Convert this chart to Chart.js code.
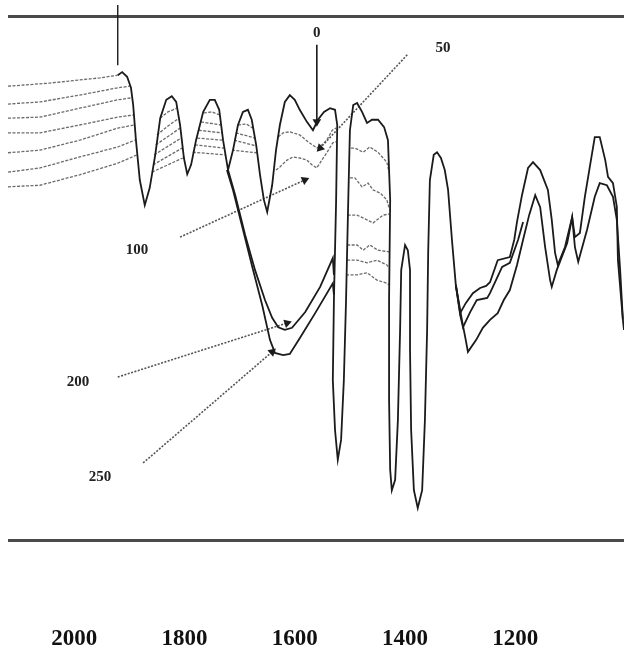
<!DOCTYPE html>
<html>
<head>
<meta charset="utf-8">
<script src="https://cdn.jsdelivr.net/npm/chart.js@4.4.1/dist/chart.umd.min.js"></script>
<style>
  body { margin: 0; background: #fff; }
  #wrap { width: 624px; height: 653px; }
</style>
</head>
<body>
<div id="wrap"><canvas id="chart"></canvas></div>
<script>
// wavenumber tick labels (cm-1)
const xTicks = [2000, 1800, 1600, 1400, 1200];
// frame lines of the recorder paper (transmittance %)
const frameT = [0, 100];

// top spectrum ("0")
const wn0 = [1921, 1913, 1904, 1897, 1893, 1888, 1881,
  1872, 1863, 1853, 1844, 1833, 1823, 1815, 1808, 1801, 1795,
  1788, 1779, 1766, 1754, 1745, 1737, 1730, 1721, 1712, 1703,
  1694, 1685, 1678, 1670, 1663, 1656, 1650, 1641, 1634, 1627,
  1618, 1609, 1600, 1591, 1578, 1567, 1558, 1547, 1536, 1527,
  1523, 1525, 1529, 1531, 1527, 1522, 1516, 1511, 1507, 1503,
  1500, 1494, 1487, 1478, 1469, 1460, 1449, 1438, 1431, 1427,
  1429, 1429, 1427, 1424, 1418, 1413, 1409, 1407, 1400, 1395,
  1391, 1391, 1389, 1384, 1377, 1369, 1364, 1360, 1358, 1355,
  1348, 1342, 1335, 1328, 1322, 1315, 1308, 1300, 1290, 1277,
  1264, 1253, 1246, 1232, 1210, 1202, 1197, 1188, 1177, 1168,
  1155, 1141, 1134, 1128, 1123, 1110, 1097, 1092, 1083, 1074,
  1065, 1056, 1047, 1037, 1032, 1023, 1016, 1014, 1005, 1003];
const t0 = [88.7, 89.3, 88.4, 86.3, 83.0, 76.3, 68.7,
  63.9, 67.2, 73.5, 80.5, 84.0, 84.7, 83.6, 79.2, 72.9, 69.8,
  71.6, 76.3, 81.7, 84.0, 84.0, 82.1, 76.3, 70.6, 74.4, 79.2,
  81.7, 82.1, 80.2, 75.4, 69.7, 64.9, 62.6, 67.7, 74.4, 79.2,
  83.6, 84.9, 84.0, 82.1, 79.8, 78.2, 80.2, 81.7, 82.4, 82.1,
  79.2, 64.9, 45.8, 30.5, 21.0, 15.3, 19.1, 30.5, 45.8, 64.9,
  78.2, 83.0, 83.4, 81.7, 79.6, 80.2, 80.2, 78.8, 76.3, 64.9,
  45.8, 26.7, 13.4, 9.5, 11.5, 22.9, 40.1, 51.5, 56.3, 55.3,
  51.5, 36.3, 21.0, 9.5, 6.1, 9.5, 22.9, 40.1, 55.3, 68.7,
  73.5, 74.0, 72.9, 70.6, 66.8, 57.3, 48.7, 43.3, 45.2, 47.1,
  48.1, 48.5, 49.2, 53.4, 54.0, 57.3, 60.7, 65.8, 71.0, 72.1,
  70.6, 66.8, 61.1, 54.8, 52.5, 55.9, 61.6, 57.8, 58.6, 65.5,
  71.2, 76.9, 76.9, 72.5, 69.3, 68.1, 63.6, 53.4, 42.0, 40.1];
// its faint run-in at the far left
const wnLead = [2120, 2044, 1953, 1921];
const tLead = [86.6, 87.2, 88.2, 88.7];

// lower traces, visible pieces only (null = gap)
const wn1 = [2120, 2062, 1990, 1921, 1899, null, 1844, 1830, 1814, null, 1765, 1750, 1736, null,
  1703, 1688, 1676, null, 1630, 1621, 1609, 1591, 1576, 1560, 1551, 1542, 1532, 1525, null,
  1498, 1491, 1476, 1464, 1449, 1433, 1429];
const t1 = [83.2, 83.6, 84.9, 86.3, 86.6, null, 80.5, 81.7, 82.4, null, 81.5, 81.7, 81.1, null,
  79.2, 79.4, 78.6, null, 76.9, 77.7, 77.9, 77.3, 76.0, 74.8, 75.4, 76.3, 78.2, 78.6, null,
  74.8, 74.8, 74.0, 75.0, 74.0, 72.1, 70.2];

const wn2 = [2120, 2062, 1990, 1921, 1895, null, 1850, 1830, 1810, null, 1770, 1734, null,
  1707, 1672, null, 1634, 1627, 1614, 1603, 1591, 1578, 1569, 1560, 1551, 1542, 1531, 1525, null,
  1500, 1491, 1478, 1467, 1458, 1445, 1433, 1429];
const t2 = [80.5, 80.7, 82.4, 84.0, 84.4, null, 77.3, 79.0, 80.5, null, 79.8, 79.2, null,
  77.7, 76.7, null, 70.6, 71.2, 72.5, 73.1, 72.9, 72.5, 71.6, 71.0, 72.5, 73.9, 75.8, 76.0, null,
  69.1, 69.1, 67.4, 68.1, 66.8, 66.2, 64.9, 63.4];

const wn3 = [2120, 2062, 1990, 1921, 1893, null, 1852, 1808, null, 1774, 1732, null, 1710, 1670, null,
  1504, 1487, 1469, 1458, 1440, 1429];
const t3 = [77.7, 77.7, 79.2, 80.7, 81.1, null, 75.4, 78.6, null, 78.2, 77.7, null, 76.3, 75.2, null,
  62.0, 62.0, 61.1, 60.5, 62.0, 62.2];

const wn4 = [2120, 2062, 1990, 1921, 1891, null, 1855, 1806, null, 1777, 1730, null, 1714, 1669, null,
  1505, 1487, 1476, 1464, 1449, 1429];
const t4 = [73.9, 74.4, 76.3, 78.6, 79.2, null, 73.5, 76.7, null, 76.7, 76.3, null, 74.4, 73.9, null,
  56.3, 56.3, 55.3, 56.3, 55.3, 55.0];

const wn5 = [2120, 2062, 1990, 1921, 1890, null, 1857, 1804, null, 1781, 1728, null,
  1505, 1487, 1469, 1451, 1433, 1429];
const t5 = [70.2, 71.0, 73.1, 75.0, 76.3, null, 71.6, 74.8, null, 75.4, 74.8, null,
  53.4, 53.4, 52.9, 53.4, 52.5, 51.9];

const wn6 = [2120, 2062, 1990, 1921, 1886, null, 1859, 1803, null, 1785, 1727, null,
  1507, 1487, 1469, 1451, 1433, 1429];
const t6 = [67.4, 67.7, 69.7, 71.9, 73.5, null, 70.2, 72.9, null, 74.0, 73.5, null,
  50.6, 50.6, 51.0, 49.6, 49.0, 48.7];

// solid V-shaped band of the "200" and "250" traces
const wn200 = [1721, 1708, 1690, 1672, 1654, 1641, 1630, 1618, 1605, 1581, 1554, 1531, 1529];
const t200 = [70.6, 65.8, 58.2, 51.5, 45.8, 42.4, 40.6, 40.1, 40.5, 43.5, 48.3, 53.8, 50.6];
const wn250 = [1723, 1712, 1696, 1678, 1659, 1645, 1636, 1621, 1609, 1591, 1563, 1531, 1529];
const t250 = [70.6, 66.8, 60.1, 52.5, 44.8, 38.2, 35.7, 35.3, 35.5, 38.5, 43.3, 49.0, 46.8];

// right hand region, lower traces
const wnMid = [1308, 1300, 1295, 1282, 1270, 1251, 1246, 1224, 1210, 1195, 1186];
const tMid = [48.7, 42.9, 40.6, 43.5, 45.8, 46.2, 47.1, 52.1, 52.9, 57.3, 60.7];
const wnLow = [1308, 1297, 1290, 1286, 1271, 1259, 1246, 1232, 1221, 1210, 1197, 1186, 1175, 1164, 1155,
  1146, 1137, 1134, 1125, 1106, 1097, 1092, 1086, 1070, 1056, 1047, 1034, 1023, 1016, 1010, 1005];
const tLow = [48.7, 42.0, 38.2, 35.9, 38.2, 40.5, 42.0, 43.3, 45.8, 47.7, 52.5, 57.3, 62.0, 65.8, 63.5,
  55.9, 49.6, 48.3, 51.5, 56.7, 61.6, 55.9, 53.1, 59.2, 65.5, 68.1, 67.7, 65.5, 61.1, 51.5, 42.0];

// marker line at the left
const markWn = [1921, 1921];
const markT = [102.1, 90.6];

// annotations: label text, arrow start/end, label position
const noteText = ['0', '50', '100', '200', '250'];
const noteFromWn = [1560, 1396, 1808, 1921, 1875];
const noteFromT = [94.5, 92.6, 57.8, 31.1, 14.7];
const noteToWn = [1560, 1554, 1582, 1614, 1641];
const noteToT = [79.8, 74.8, 68.7, 41.4, 35.9];
const noteWn = [1560, 1331, 1886, 1993, 1953];
const noteT = [96.8, 93.9, 55.3, 30.2, 12.0];

function pts(xs, ys) {
  return xs.map((x, i) => ({ x: x === null ? xs[i - 1] : x, y: ys[i] }));
}

const black = '#1b1b1b';
const grey = 'rgba(70,70,70,0.8)';

function solid(label, xs, ys) {
  return { label, data: pts(xs, ys), borderColor: black, borderWidth: 1.8, pointRadius: 0, spanGaps: false };
}
function dotted(label, xs, ys) {
  return { label, data: pts(xs, ys), borderColor: grey, borderWidth: 1.3, borderDash: [3, 1.5], pointRadius: 0, spanGaps: false };
}

function arrowRotation(c) {
  const ch = c.chart;
  const d = ch.data.datasets[c.datasetIndex].data;
  const sx = ch.scales.x, sy = ch.scales.y;
  const dx = sx.getPixelForValue(d[1].x) - sx.getPixelForValue(d[0].x);
  const dy = sy.getPixelForValue(d[1].y) - sy.getPixelForValue(d[0].y);
  return Math.atan2(dx, -dy) * 180 / Math.PI;
}

// head sits on the middle point so the plot box is not shrunk for it
const arrows = noteText.map((s, i) => ({
  label: 'arrow ' + s,
  data: [
    { x: noteFromWn[i], y: noteFromT[i] },
    { x: noteToWn[i], y: noteToT[i] },
    { x: noteToWn[i], y: noteToT[i] }
  ],
  borderColor: i === 0 ? black : '#555',
  borderWidth: 1.6,
  borderDash: i === 0 ? [] : [2, 1.5],
  pointStyle: 'triangle',
  pointRadius: [0, 5, 0],
  pointBackgroundColor: black,
  pointBorderColor: black,
  pointBorderWidth: 0,
  pointRotation: arrowRotation
}));

const labelPlugin = {
  id: 'noteLabels',
  afterDatasetsDraw(chart) {
    const { ctx, scales: { x, y } } = chart;
    ctx.save();
    ctx.font = 'bold 15px "Liberation Serif", serif';
    ctx.fillStyle = '#222';
    ctx.textAlign = 'center';
    ctx.textBaseline = 'middle';
    noteText.forEach((s, i) => {
      ctx.fillText(s, x.getPixelForValue(noteWn[i]), y.getPixelForValue(noteT[i]));
    });
    ctx.restore();
  }
};

new Chart(document.getElementById('chart'), {
  type: 'line',
  data: {
    datasets: [
      solid('0', wn0, t0),
      solid('200', wn200, t200),
      solid('250', wn250, t250),
      solid('mid', wnMid, tMid),
      solid('low', wnLow, tLow),
      Object.assign(solid('mark', markWn, markT), { clip: false, borderWidth: 1.4 }),
      ...arrows,
      dotted('0 lead', wnLead, tLead),
      dotted('50', wn1, t1),
      dotted('100', wn2, t2),
      dotted('150', wn3, t3),
      dotted('175', wn4, t4),
      dotted('200 trace', wn5, t5),
      dotted('250 trace', wn6, t6)
    ]
  },
  options: {
    responsive: true,
    maintainAspectRatio: false,
    animation: false,
    layout: { padding: { left: 8, right: 0, top: 16, bottom: 0 } },
    plugins: { legend: { display: false }, tooltip: { enabled: false } },
    elements: { line: { tension: 0 } },
    scales: {
      x: {
        type: 'linear',
        reverse: true,
        min: 1003,
        max: 2120,
        afterBuildTicks: (scale) => { scale.ticks = xTicks.map(v => ({ value: v })); },
        // labels sit far below the frame; keep the plot box fixed
        afterFit: (scale) => { scale.height = 113; scale.paddingLeft = 0; scale.paddingRight = 0; },
        grid: { display: false, drawTicks: false },
        border: { display: false },
        ticks: {
          padding: 85,
          color: '#111',
          font: { family: '"Liberation Serif", serif', size: 23, weight: 'bold' },
          maxRotation: 0,
          autoSkip: false,
          callback: (v) => String(v)
        }
      },
      y: {
        display: true,
        min: 0,
        max: 100,
        afterBuildTicks: (scale) => { scale.ticks = frameT.map(v => ({ value: v })); },
        afterFit: (scale) => { scale.paddingTop = 0; scale.paddingBottom = 0; },
        grid: { drawTicks: false, color: '#4a4a4a', lineWidth: 3 },
        border: { display: false },
        ticks: { display: false }
      }
    }
  },
  plugins: [labelPlugin]
});
</script>
</body>
</html>
